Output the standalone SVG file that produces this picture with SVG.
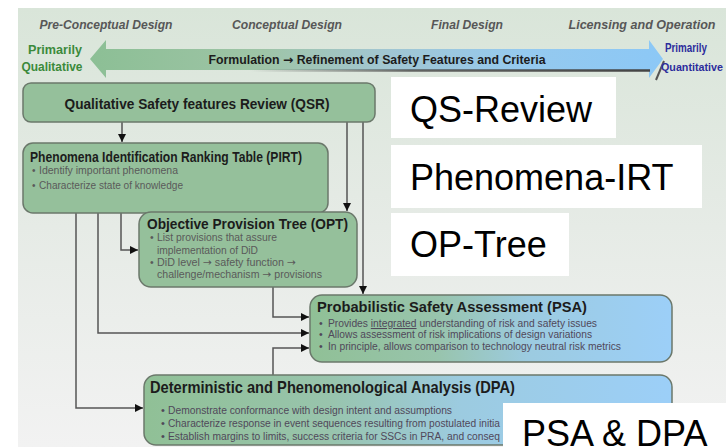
<svg xmlns="http://www.w3.org/2000/svg" width="726" height="447" viewBox="0 0 726 447">
<defs>
<linearGradient id="bg" x1="0" y1="0" x2="0" y2="1">
<stop offset="0" stop-color="#d9e5d9"/>
<stop offset="0.5" stop-color="#e6ebe6"/>
<stop offset="1" stop-color="#f2f2f2"/>
</linearGradient>
<linearGradient id="arrowGrad" x1="90" y1="0" x2="663" y2="0" gradientUnits="userSpaceOnUse">
<stop offset="0" stop-color="#8cbf95"/>
<stop offset="0.3" stop-color="#9ec4a6"/>
<stop offset="0.5" stop-color="#a2c6cf"/>
<stop offset="0.75" stop-color="#95c9ee"/>
<stop offset="1" stop-color="#8cc8f6"/>
</linearGradient>
<linearGradient id="shadowGrad" x1="250" y1="0" x2="650" y2="0" gradientUnits="userSpaceOnUse">
<stop offset="0" stop-color="#444" stop-opacity="0"/>
<stop offset="0.4" stop-color="#444" stop-opacity="0.8"/>
<stop offset="1" stop-color="#444" stop-opacity="1"/>
</linearGradient>
<linearGradient id="gbGrad" x1="0" y1="0" x2="1" y2="0">
<stop offset="0" stop-color="#90c096"/>
<stop offset="0.35" stop-color="#98c4ac"/>
<stop offset="0.6" stop-color="#9ccbe0"/>
<stop offset="1" stop-color="#9ccff8"/>
</linearGradient>
<marker id="ah" viewBox="0 0 10 10" refX="10" refY="5" markerWidth="8" markerHeight="8" markerUnits="userSpaceOnUse" orient="auto">
<path d="M0,0 L10,5 L0,10 z" fill="#111"/>
</marker>
</defs>
<style>
.node{fill:#95c09b;stroke:#6b786b;stroke-width:1.5}
.gb{fill:url(#gbGrad);stroke:#6b786b;stroke-width:1.5}
.title{font-family:"Liberation Sans",Arial,sans-serif;font-weight:bold;fill:#1c1c1c}
.bul{font-family:"Liberation Sans",Arial,sans-serif;fill:#5a5a5a}
.bulp{font-family:"Liberation Sans",Arial,sans-serif;fill:#50485a}
.head{font-family:"Liberation Sans",Arial,sans-serif;font-weight:bold;font-style:italic;font-size:12.5px;fill:#575757}
.lab{font-family:"Liberation Sans",Arial,sans-serif;font-size:36px;fill:#000}
.arr{font-family:"DejaVu Sans",sans-serif}
.conn{fill:none;stroke:#555;stroke-width:1.5}
.wbox{fill:#fff}
</style>
<rect x="0" y="0" width="726" height="447" fill="#fff"/>
<rect x="18" y="8" width="708" height="439" fill="url(#bg)"/>

<g id="phase-headings">
<text class="head" x="106" y="29" text-anchor="middle" textLength="133" lengthAdjust="spacingAndGlyphs">Pre-Conceptual Design</text>
<text class="head" x="287" y="29" text-anchor="middle" textLength="110" lengthAdjust="spacingAndGlyphs">Conceptual Design</text>
<text class="head" x="467" y="29" text-anchor="middle" textLength="72" lengthAdjust="spacingAndGlyphs">Final Design</text>
<text class="head" x="642" y="29" text-anchor="middle" textLength="147" lengthAdjust="spacingAndGlyphs">Licensing and Operation</text>
</g>

<g id="formulation-arrow">
<path d="M90,59 L106,40 L106,49 L649,49 L649,40 L663,59 L649,78 L649,70 L106,70 L106,78 Z" fill="url(#arrowGrad)"/>
<path d="M250,70.5 L650,70.5" stroke="url(#shadowGrad)" stroke-width="2.5" fill="none"/>
<path d="M656,80 L664,61" stroke="#555" stroke-width="2" fill="none"/>
<text class="title" x="377" y="64" text-anchor="middle" font-size="12.5" textLength="337" lengthAdjust="spacingAndGlyphs" fill="#111">Formulation <tspan class="arr">→</tspan> Refinement of Safety Features and Criteria</text>
<text class="title" x="55" y="54" text-anchor="middle" font-size="13" textLength="54" lengthAdjust="spacingAndGlyphs" style="fill:#3b8a3b">Primarily</text>
<text class="title" x="52" y="71" text-anchor="middle" font-size="13" textLength="61" lengthAdjust="spacingAndGlyphs" style="fill:#3b8a3b">Qualitative</text>
<text class="title" x="665" y="52" font-size="12" textLength="42" lengthAdjust="spacingAndGlyphs" style="fill:#2c2c9c">Primarily</text>
<text class="title" x="661" y="71" font-size="10.5" textLength="62" lengthAdjust="spacingAndGlyphs" style="fill:#2c2c9c">Quantitative</text>
</g>

<g id="connectors">
<path class="conn" d="M122,122 L122,142" marker-end="url(#ah)"/>
<path class="conn" d="M347,122 L347,211" marker-end="url(#ah)"/>
<path class="conn" d="M363,122 L363,294" marker-end="url(#ah)"/>
<path class="conn" d="M121,213 L121,250 L138,250" marker-end="url(#ah)"/>
<path class="conn" d="M98,213 L98,333 L309,333" marker-end="url(#ah)"/>
<path class="conn" d="M76,213 L76,408 L143,408" marker-end="url(#ah)"/>
<path class="conn" d="M273,287 L273,317 L309,317" marker-end="url(#ah)"/>
<path class="conn" d="M273,375 L273,348 L309,348" marker-end="url(#ah)"/>
</g>

<g id="qsr">
<rect class="node" x="23" y="83" width="352" height="39" rx="8"/>
<text class="title" x="197" y="109" text-anchor="middle" font-size="14.5" textLength="265" lengthAdjust="spacingAndGlyphs">Qualitative Safety features Review (QSR)</text>
</g>

<g id="pirt">
<rect class="node" x="23" y="143" width="305" height="70" rx="10"/>
<text class="title" x="30" y="162" font-size="14.5" textLength="272" lengthAdjust="spacingAndGlyphs">Phenomena Identification Ranking Table (PIRT)</text>
<text class="bul" x="32" y="174" font-size="10">•</text>
<text class="bul" x="39" y="174" font-size="10" textLength="139" lengthAdjust="spacingAndGlyphs">Identify important phenomena</text>
<text class="bul" x="32" y="189" font-size="10">•</text>
<text class="bul" x="39" y="189" font-size="10" textLength="144" lengthAdjust="spacingAndGlyphs">Characterize state of knowledge</text>
</g>

<g id="opt">
<rect class="node" x="139" y="212" width="218" height="75" rx="12"/>
<text class="title" x="147" y="229" font-size="15" textLength="201" lengthAdjust="spacingAndGlyphs">Objective Provision Tree (OPT)</text>
<text class="bul" x="150" y="241" font-size="10.5">•</text>
<text class="bul" x="157" y="241" font-size="10.5" textLength="120" lengthAdjust="spacingAndGlyphs">List provisions that assure</text>
<text class="bul" x="157" y="254" font-size="10.5" textLength="101" lengthAdjust="spacingAndGlyphs">implementation of DiD</text>
<text class="bul" x="150" y="266" font-size="10.5">•</text>
<text class="bul" x="157" y="266" font-size="10.5" textLength="139" lengthAdjust="spacingAndGlyphs">DiD level <tspan class="arr">→</tspan> safety function <tspan class="arr">→</tspan></text>
<text class="bul" x="157" y="278" font-size="10.5" textLength="165" lengthAdjust="spacingAndGlyphs">challenge/mechanism <tspan class="arr">→</tspan> provisions</text>
</g>

<g id="psa">
<rect class="gb" x="310" y="295" width="362" height="67" rx="12"/>
<text class="title" x="317" y="312" font-size="15.5" textLength="270" lengthAdjust="spacingAndGlyphs">Probabilistic Safety Assessment (PSA)</text>
<text class="bulp" x="319" y="327" font-size="10.5">•</text>
<text class="bulp" x="328" y="327" font-size="10.5" textLength="269" lengthAdjust="spacingAndGlyphs">Provides <tspan text-decoration="underline">integrated</tspan> understanding of risk and safety issues</text>
<text class="bulp" x="319" y="338" font-size="10.5">•</text>
<text class="bulp" x="328" y="338" font-size="10.5" textLength="264" lengthAdjust="spacingAndGlyphs">Allows assessment of risk implications of design variations</text>
<text class="bulp" x="319" y="350" font-size="10.5">•</text>
<text class="bulp" x="328" y="350" font-size="10.5" textLength="293" lengthAdjust="spacingAndGlyphs">In principle, allows comparison to technology neutral risk metrics</text>
</g>

<g id="dpa">
<rect class="gb" x="144" y="375" width="528" height="70" rx="12"/>
<text class="title" x="150" y="393" font-size="16.5" textLength="365" lengthAdjust="spacingAndGlyphs">Deterministic and Phenomenological Analysis (DPA)</text>
<text class="bulp" x="161" y="414" font-size="11">•</text>
<text class="bulp" x="168" y="414" font-size="11" textLength="284" lengthAdjust="spacingAndGlyphs">Demonstrate conformance with design intent and assumptions</text>
<text class="bulp" x="161" y="427" font-size="11">•</text>
<text class="bulp" x="168" y="427" font-size="10" textLength="332" lengthAdjust="spacingAndGlyphs">Characterize response in event sequences resulting from postulated initia</text>
<text class="bulp" x="161" y="440" font-size="11">•</text>
<text class="bulp" x="168" y="440" font-size="10" textLength="332" lengthAdjust="spacingAndGlyphs">Establish margins to limits, success criteria for SSCs in PRA, and conseq</text>
</g>

<g id="labels">
<rect class="wbox" x="391" y="77" width="225" height="61"/>
<text class="lab" x="410" y="122">QS-Review</text>
<rect class="wbox" x="391" y="145" width="311" height="63"/>
<text class="lab" x="410" y="190">Phenomena-IRT</text>
<rect class="wbox" x="391" y="213" width="178" height="63"/>
<text class="lab" x="410" y="257">OP-Tree</text>
<rect class="wbox" x="503" y="403" width="223" height="44"/>
<text class="lab" x="522" y="446">PSA &amp; DPA</text>
</g>
</svg>
